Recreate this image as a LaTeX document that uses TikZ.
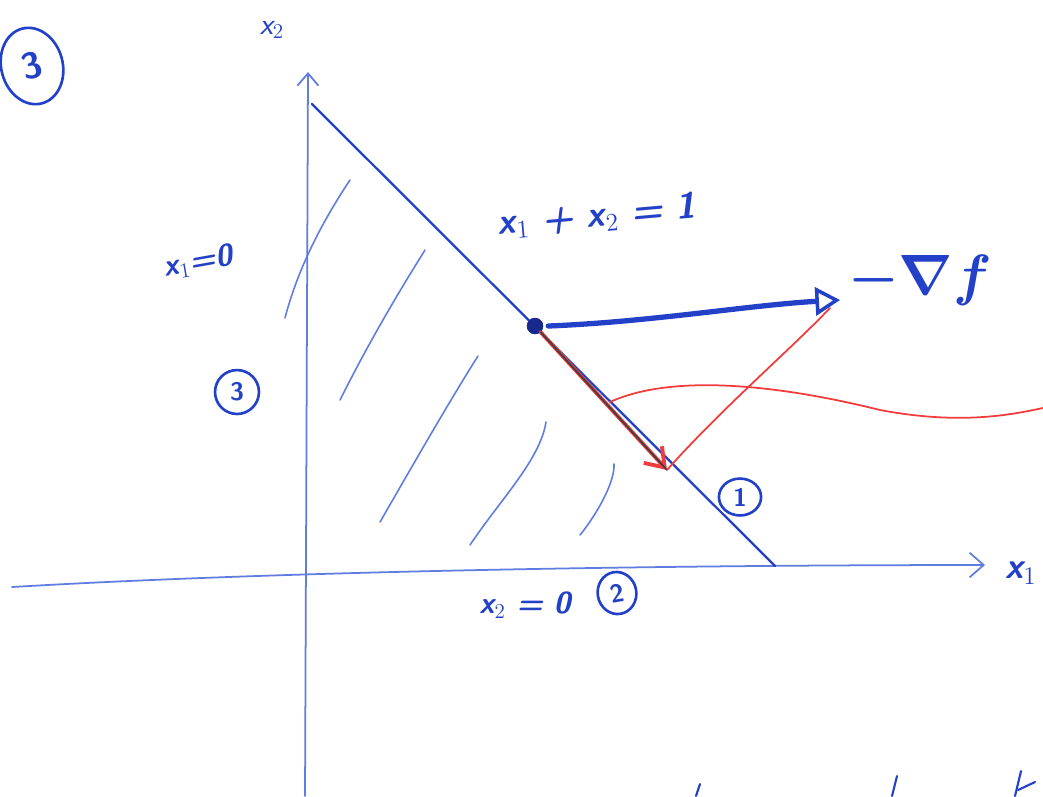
\documentclass[tikz,border=0pt]{standalone}
\usepackage{amsmath,bm}
\usetikzlibrary{arrows.meta,shapes.geometric}
\definecolor{pen}{RGB}{35,65,200}
\definecolor{pendark}{RGB}{25,40,140}
\definecolor{penlight}{RGB}{95,125,225}
\definecolor{redpen}{RGB}{240,60,60}
\tikzset{
  ink/.style={draw=pen, line width=1.2pt, line cap=round},
  axis/.style={draw=penlight, line width=1pt, line cap=round},
  hatch/.style={draw=penlight, line width=0.9pt, line cap=round},
  lbl/.style={text=pen, font=\sffamily\bfseries\itshape\huge, inner sep=1pt},
  circ/.style={draw=pen, line width=1.5pt, ellipse, text=pen, font=\sffamily\bfseries\Large, inner sep=1pt, minimum width=25pt, minimum height=25pt},
  redline/.style={draw=redpen, line width=1pt, line cap=round}
}
\begin{document}
\begin{tikzpicture}[x=0.02cm,y=-0.02cm]
\useasboundingbox[fill=white] (0,0) rectangle (1043,796);
% corner circled 3
\node[circ, minimum width=35pt, minimum height=44pt, rotate=15, font=\sffamily\bfseries\huge] (c3a) at (32,66) {3};
\node[lbl, font=\sffamily\itshape\LARGE] (lx2) at (272,30) {x$_2$};
% axes
\coordinate (ybot) at (305,796);
\coordinate (ytop) at (308,72);
\coordinate (xleft) at (12,587);
\coordinate (xright) at (985,565);
\draw[axis, -{Straight Barb[length=7pt,width=12pt]}] (ybot) -- (ytop);
\draw[axis, -{Straight Barb[length=8pt,width=14pt]}] (xleft) .. controls (300,570) and (700,565) .. (xright);
\node[lbl, anchor=west] (lx1) at (1003,573) {x$_1$};
% constraint line
\coordinate (d1) at (312,104);
\coordinate (d2) at (775,566);
\draw[ink, line width=1.3pt] (d1) -- (d2);
% hatching
\draw[hatch] (285,318) .. controls (300,260) and (330,210) .. (350,180);
\draw[hatch] (340,400) .. controls (370,340) and (400,290) .. (425,250);
\draw[hatch] (380,522) .. controls (410,470) and (450,400) .. (478,356);
\draw[hatch] (470,545) .. controls (500,500) and (540,460) .. (546,422);
\draw[hatch] (580,535) .. controls (600,510) and (615,480) .. (614,464);
% labels
\node[lbl, rotate=5] (leq) at (597,216) {x$_1$ + x$_2$ = 1};
\node[lbl, rotate=10, font=\sffamily\bfseries\itshape\LARGE] (lx10) at (198,262) {x$_1$=0};
\node[circ] (c3b) at (237,392) {3};
\node[circ, minimum width=24pt, minimum height=21pt] (c1) at (740,497) {1};
\node[lbl, font=\sffamily\bfseries\itshape\LARGE] (lx20) at (525,605) {x$_2$ = 0};
\node[circ, rotate=10, minimum width=22pt, minimum height=24pt] (c2) at (617,593) {2};
% point and gradient
\node[circle, fill=pendark, draw=pendark, minimum size=9pt, inner sep=0pt] (pt) at (535,326) {};
\coordinate (gtip) at (840,300);
\draw[draw=pen, line width=3pt, line cap=round, -{Triangle[open, length=14pt, width=16pt, line width=2pt]}] (pt.east) ++(5,0) .. controls (650,322) and (750,305) .. (gtip);
\node[text=pen, font=\Huge, anchor=west, scale=1.3] (lgrad) at (840,280) {$\bm{-\nabla f}$};
% projected direction
\coordinate (ptip) at (667,470);
\draw[redline, line width=2.2pt, -{Straight Barb[length=10pt,width=14pt]}] (pt) -- (ptip);
\draw[black!75, line width=1pt] (pt) -- (ptip);
\draw[redline] (ptip) .. controls (720,410) and (790,350) .. (830,308);
\draw[redline] (610,402) .. controls (680,370) and (800,390) .. (880,410) .. controls (960,425) and (1010,415) .. (1043,408);
% partial marks bottom
\draw[ink] (700,784) -- (696,796);
\draw[ink] (897,776) -- (892,796);
\draw[ink] (1021,771) -- (1015,796);
\draw[ink] (1018,790) -- (1035,782);
\end{tikzpicture}
\end{document}
